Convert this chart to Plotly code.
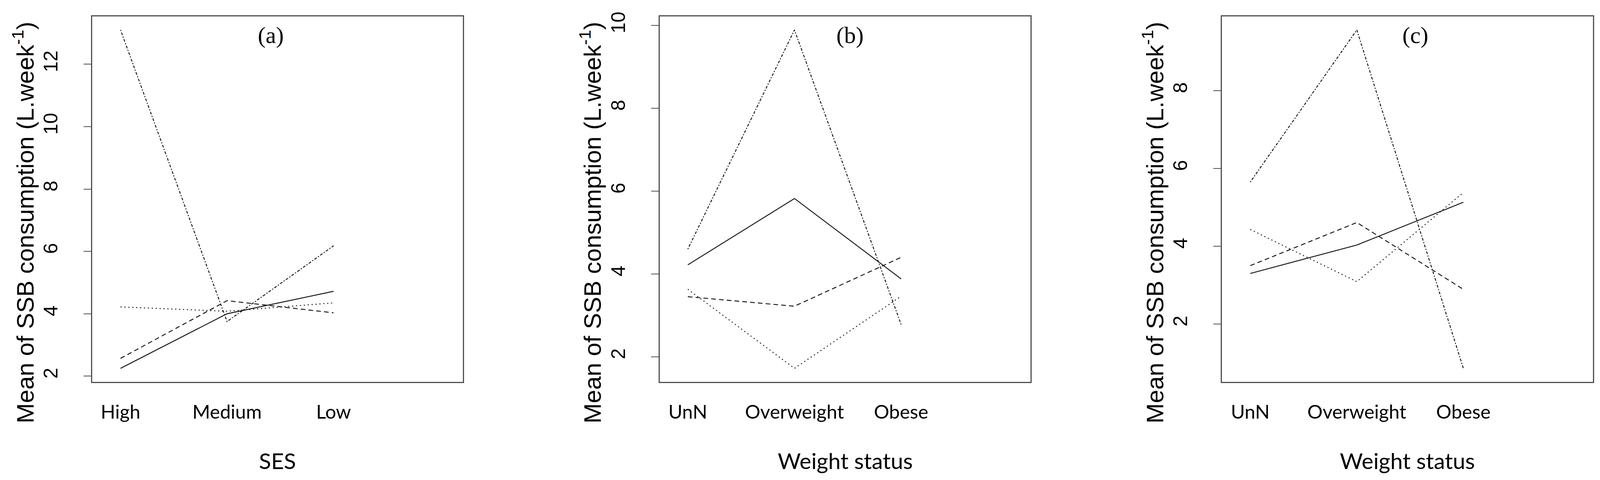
import plotly.graph_objects as go

# category labels
ses_levels = ["High", "Medium", "Low"]
weight_levels = ["UnN", "Overweight", "Obese"]

# panel (a): mean SSB consumption by SES
a_solid = [2.25, 4.00, 4.72]
a_dashed = [2.57, 4.42, 4.03]
a_dotted = [4.22, 4.08, 4.35]
a_dotdash = [13.10, 3.75, 6.18]

# panel (b): by weight status
b_solid = [4.22, 5.82, 3.88]
b_dashed = [3.45, 3.22, 4.40]
b_dotted = [3.63, 1.72, 3.46]
b_dotdash = [4.60, 9.89, 2.78]

# panel (c): by weight status
c_solid = [3.30, 4.03, 5.13]
c_dashed = [3.50, 4.61, 2.89]
c_dotted = [4.43, 3.09, 5.38]
c_dotdash = [5.65, 9.56, 0.86]

# the viewport is 4096 wide, so squeeze the 4648-wide layout horizontally
REF_W = 4648
W, H = 4096, 1228
SX = W / REF_W
TOP, BOTTOM = 34, 969
PLOT_H = BOTTOM - TOP
BOXES = [(259, 1336), (1907, 2985), (3541, 4618)]  # in reference pixels

LINE_COLOR = "#1a1a1a"
DASHES = ["solid", "12px,8px", "3px,7px", "3px,4px,7px,4px"]

panels = [
    ("(a)", "SES", ses_levels, [a_solid, a_dashed, a_dotted, a_dotdash], [2, 4, 6, 8, 10, 12], 2.41),
    ("(b)", "Weight status", weight_levels, [b_solid, b_dashed, b_dotted, b_dotdash], [2, 4, 6, 8, 10], 2.52),
    ("(c)", "Weight status", weight_levels, [c_solid, c_dashed, c_dotted, c_dotdash], [2, 4, 6, 8], 2.55),
]

fig = go.Figure()
annotations = []
layout_axes = {}

for i, (tag, xtitle, levels, series, yticks, tag_x) in enumerate(panels):
    n = i + 1
    xa = "x" if n == 1 else f"x{n}"
    ya = "y" if n == 1 else f"y{n}"
    for s, dash in zip(series, DASHES):
        fig.add_trace(go.Scatter(
            x=[1, 2, 3], y=s, mode="lines",
            line=dict(color=LINE_COLOR, width=2.4, dash=dash),
            xaxis=xa, yaxis=ya, showlegend=False, hoverinfo="y",
        ))

    # R-style 4% range expansion
    all_vals = [v for s in series for v in s]
    lo, hi = min(all_vals), max(all_vals)
    pad = 0.04 * (hi - lo)

    left, right = BOXES[i]
    left, right = left * SX, right * SX
    key = "" if n == 1 else str(n)
    layout_axes[f"xaxis{key}"] = dict(
        domain=[left / W, right / W], range=[0.735, 4.215],
        tickvals=[1, 2, 3], ticktext=levels,
        ticks="outside", ticklen=32, tickcolor="rgba(0,0,0,0)",
        tickfont=dict(family="Lato", size=49, color="black"),
        showline=True, mirror=True, linecolor="#505050", linewidth=3,
        showgrid=False, zeroline=False, anchor=ya,
    )
    layout_axes[f"yaxis{key}"] = dict(
        range=[lo - pad, hi + pad], tickvals=yticks,
        ticks="outside", ticklen=19, tickwidth=2, tickcolor="#505050",
        tickangle=-90, ticklabelstandoff=47,
        tickfont=dict(family="Liberation Sans", size=50, color="black"),
        showline=True, mirror=True, linecolor="#505050", linewidth=3,
        showgrid=False, zeroline=False, anchor=xa,
    )

    # panel tag
    annotations.append(dict(
        x=tag_x, y=(BOTTOM - 82) / PLOT_H, xref=xa, yref="paper",
        text=tag, showarrow=False, xanchor="center", yanchor="middle",
        font=dict(family="Liberation Serif", size=60, color="black"),
    ))
    # x-axis title
    annotations.append(dict(
        x=(left + right) / 2 / W, y=(BOTTOM - 1170) / PLOT_H, xref="paper", yref="paper",
        text=xtitle, showarrow=False, xanchor="center", yanchor="middle",
        font=dict(family="Lato", size=57, color="black"),
    ))
    # y-axis title
    annotations.append(dict(
        x=(left - 200 * SX) / W, y=(BOTTOM - 561) / PLOT_H, xref="paper", yref="paper",
        text="Mean of SSB consumption (L.week<sup>-1</sup>)", showarrow=False,
        textangle=-90, xanchor="center", yanchor="middle",
        font=dict(family="Liberation Sans", size=62, color="black"),
    ))

fig.update_layout(
    width=W, height=H,
    margin=dict(l=0, r=0, t=TOP, b=H - BOTTOM, autoexpand=False),
    paper_bgcolor="white", plot_bgcolor="white",
    annotations=annotations,
    **layout_axes,
)

fig.write_html("out.html")
